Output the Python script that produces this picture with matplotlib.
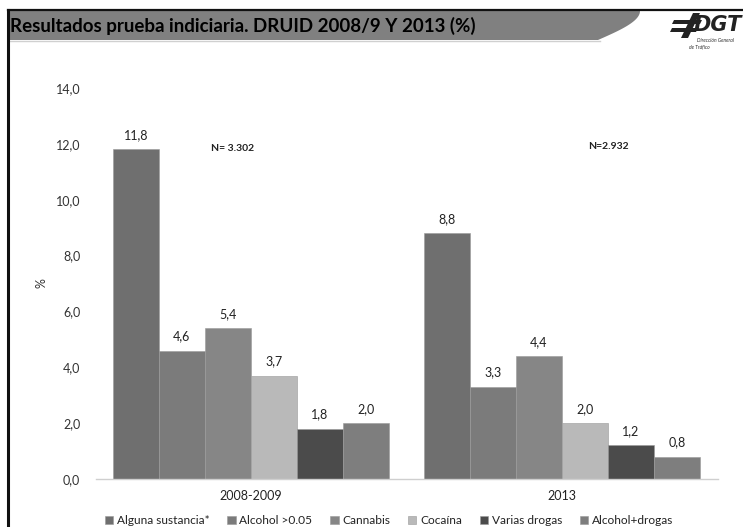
import matplotlib
matplotlib.use("Agg")
import matplotlib.pyplot as plt
import numpy as np
from matplotlib.patches import Polygon

groups = ["2008-2009", "2013"]
series = ["Alguna sustancia*", "Alcohol >0.05", "Cannabis", "Cocaína", "Varias drogas", "Alcohol+drogas"]
values_2008 = [11.8, 4.6, 5.4, 3.7, 1.8, 2.0]
values_2013 = [8.8, 3.3, 4.4, 2.0, 1.2, 0.8]
sample_sizes = ["N= 3.302", "N=2.932"]
colors = ["#6f6f6f", "#7b7b7b", "#868686", "#b9b9b9", "#4b4b4b", "#7e7e7e"]
yticks = [0, 2, 4, 6, 8, 10, 12, 14]

plt.rcParams['font.family'] = ['Lato', 'DejaVu Sans']

W, H = 743, 527
fig = plt.figure(figsize=(W / 100, H / 100), dpi=100)
fig.patch.set_facecolor("white")

# header band and frame
bg = fig.add_axes([0, 0, 1, 1])
bg.set_xlim(0, W)
bg.set_ylim(H, 0)
bg.axis("off")
t = np.linspace(0, 1, 40)
curve_x = 598 + 42 * np.sin(t * np.pi / 2)
curve_y = 40 - 29 * t
band = [(8, 11), (8, 40)] + list(zip(curve_x, curve_y)) + [(640, 11)]
bg.add_patch(Polygon(band, closed=True, facecolor="#808080", edgecolor="none"))
bg.plot([8, 600], [41, 41], color="#d0d0d0", lw=1)
bg.plot([8, W], [10, 10], color="#111111", lw=1.6)
bg.plot([8, 8], [9.5, H], color="#111111", lw=2.2)
bg.text(10, 26, "Resultados prueba indiciaria. DRUID 2008/9 Y 2013 (%)",
        fontsize=13.5, fontweight="bold", color="#000000", va="center", ha="left")

# DGT logo
bg.add_patch(Polygon([(674, 20), (702, 20), (700, 24), (672, 24)], closed=True, facecolor="#222222"))
bg.add_patch(Polygon([(672, 28), (698, 28), (696, 32), (670, 32)], closed=True, facecolor="#222222"))
bg.add_patch(Polygon([(693, 13), (700, 13), (688, 38), (681, 38)], closed=True, facecolor="#222222"))
bg.text(694, 25, "DGT", fontsize=15, fontweight="bold", style="italic", color="#222222",
        va="center", ha="left", family="DejaVu Sans")
bg.text(697, 41, "Dirección General", fontsize=3.6, style="italic", color="#333333", va="center")
bg.text(689, 47, "de Tráfico", fontsize=3.6, style="italic", color="#333333", va="center")

ax = fig.add_axes([95.5 / W, (H - 479) / H, 622 / W, 391 / H])
x = np.arange(len(groups))
n = len(series)
bw = 0.148
for i, (name, c) in enumerate(zip(series, colors)):
    vals = [values_2008[i], values_2013[i]]
    pos = x + (i - (n - 1) / 2) * bw
    ax.bar(pos, vals, width=bw, color=c, label=name, edgecolor="#9a9a9a", linewidth=0.4)
    for p, v in zip(pos, vals):
        ax.text(p, v + 0.3, f"{v:.1f}".replace(".", ","), ha="center", va="bottom",
                fontsize=9, color="#222222")

ax.text(0 - 0.06, 11.85, sample_sizes[0], fontsize=7.5, fontweight="bold", ha="center", va="center", color="#222222")
ax.text(1 + 0.15, 11.9, sample_sizes[1], fontsize=7.5, fontweight="bold", ha="center", va="center", color="#222222")

ax.set_xlim(-0.5, 1.5)
ax.set_ylim(0, 14)
ax.set_yticks(yticks)
ax.set_yticklabels([f"{v:.1f}".replace(".", ",") for v in yticks], fontsize=9, color="#333333")
ax.set_xticks(x)
ax.set_xticklabels(groups, fontsize=9, color="#222222")
ax.tick_params(axis="both", length=0)
ax.tick_params(axis="y", pad=11)
ax.tick_params(axis="x", pad=8)
for s in ["top", "right", "left"]:
    ax.spines[s].set_visible(False)
ax.spines["bottom"].set_color("#cfcfcf")
ax.spines["bottom"].set_linewidth(1)
ax.set_ylabel("%", fontsize=9, color="#333333", labelpad=6)

ax.legend(loc="upper center", bbox_to_anchor=(0.472, -0.065), ncol=6, frameon=False,
          fontsize=8.6, handlelength=0.7, handleheight=0.7, handletextpad=0.3,
          columnspacing=1.5, labelcolor="#222222")

fig.savefig("out.png", dpi=100)
